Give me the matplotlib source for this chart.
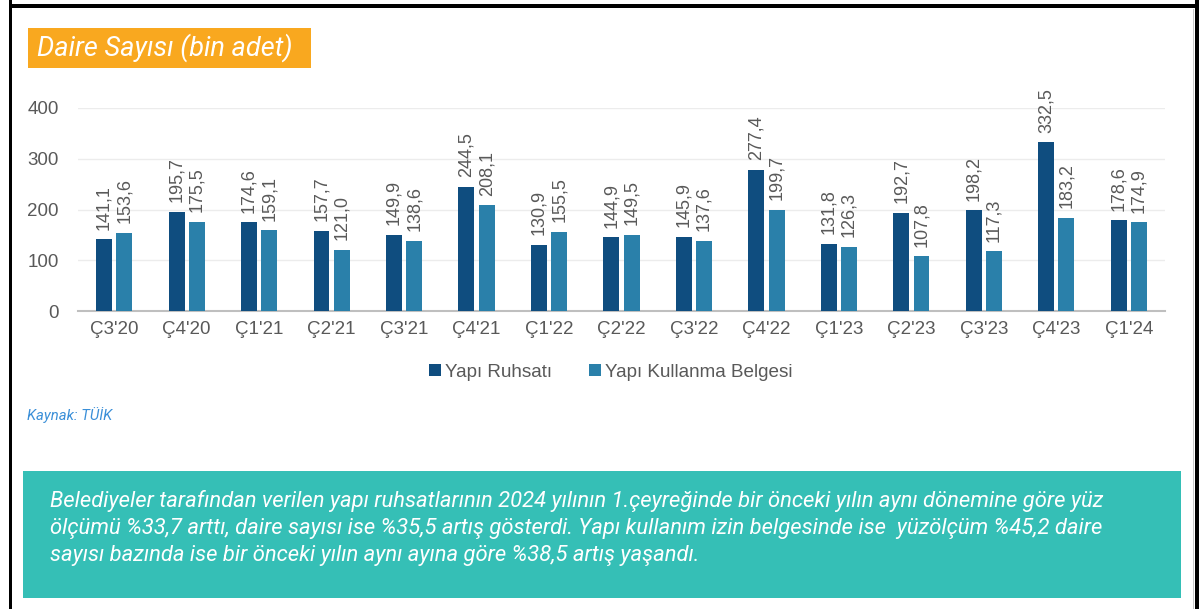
import matplotlib
matplotlib.use("Agg")
import matplotlib.pyplot as plt
from matplotlib.patches import Rectangle
import numpy as np

categories = ["Ç3'20", "Ç4'20", "Ç1'21", "Ç2'21", "Ç3'21", "Ç4'21", "Ç1'22", "Ç2'22",
              "Ç3'22", "Ç4'22", "Ç1'23", "Ç2'23", "Ç3'23", "Ç4'23", "Ç1'24"]
yapi_ruhsati = [141.1, 195.7, 174.6, 157.7, 149.9, 244.5, 130.9, 144.9,
                145.9, 277.4, 131.8, 192.7, 198.2, 332.5, 178.6]
yapi_kullanma = [153.6, 175.5, 159.1, 121.0, 138.6, 208.1, 155.5, 149.5,
                 137.6, 199.7, 126.3, 107.8, 117.3, 183.2, 174.9]
series_names = ["Yapı Ruhsatı", "Yapı Kullanma Belgesi"]
yticks = [0, 100, 200, 300, 400]

title_text = "Daire Sayısı (bin adet)"
source_text = "Kaynak: TÜİK"
note_text = ("Belediyeler tarafından verilen yapı ruhsatlarının 2024 yılının 1.çeyreğinde bir önceki yılın aynı dönemine göre yüz\n"
             "ölçümü %33,7 arttı, daire sayısı ise %35,5 artış gösterdi. Yapı kullanım izin belgesinde ise  yüzölçüm %45,2 daire\n"
             "sayısı bazında ise bir önceki yılın aynı ayına göre %38,5 artış yaşandı.")

W, H = 1200, 609
fig = plt.figure(figsize=(W / 100, H / 100), dpi=100)
fig.patch.set_facecolor("white")

def fx(px):
    return px / W

def fy(py):
    return 1 - py / H

dark = "#0f4d7f"
light = "#2a80aa"
gray_txt = "#595959"

# frame borders
fig.add_artist(Rectangle((fx(9), fy(609)), fx(3), 609 / H, transform=fig.transFigure, color="black", lw=0))
fig.add_artist(Rectangle((fx(9), fy(8)), fx(1190), 4 / H, transform=fig.transFigure, color="black", lw=0))
fig.add_artist(Rectangle((fx(1195), fy(609)), fx(4), 609 / H, transform=fig.transFigure, color="black", lw=0))
fig.add_artist(Rectangle((fx(1193), fy(609)), fx(1), 600 / H, transform=fig.transFigure, color="#c8c8c8", lw=0))

# title box
fig.add_artist(Rectangle((fx(28), fy(68)), fx(283), 40 / H, transform=fig.transFigure,
                         color="#f9a81f", lw=0))
fig.text(fx(37), fy(48), title_text, fontsize=19.5, family="Roboto", style="italic",
         color="white", va="center", ha="left")

# axes
ax = fig.add_axes([fx(78), fy(311), fx(1165 - 78), (311 - 108) / H])
x = np.arange(len(categories))
bw = 0.22
gap = 0.06
off = (bw + gap) / 2
b1 = ax.bar(x - off, yapi_ruhsati, bw, color=dark, label=series_names[0], zorder=3)
b2 = ax.bar(x + off, yapi_kullanma, bw, color=light, label=series_names[1], zorder=3)

for bars, vals in ((b1, yapi_ruhsati), (b2, yapi_kullanma)):
    for rect, v in zip(bars, vals):
        ax.annotate(f"{v:.1f}".replace(".", ","),
                    (rect.get_x() + rect.get_width() / 2, rect.get_height()),
                    xytext=(0, 7), textcoords="offset points", rotation=90,
                    ha="center", va="bottom", fontsize=13, color=gray_txt,
                    family="Liberation Sans", annotation_clip=False)

ax.set_xlim(-0.5, len(categories) - 0.5)
ax.set_ylim(0, 400)
ax.set_yticks(yticks)
ax.set_xticks(x)
ax.set_xticklabels(categories)
for s in ("top", "right", "left"):
    ax.spines[s].set_visible(False)
ax.spines["bottom"].set_color("#bfbfbf")
ax.spines["bottom"].set_linewidth(1.5)
ax.grid(axis="y", color="#ececec", lw=1, zorder=0)
ax.tick_params(axis="both", length=0, labelsize=13.5, labelcolor=gray_txt)
ax.tick_params(axis="y", pad=14)
ax.tick_params(axis="x", pad=7)
for lbl in ax.get_xticklabels() + ax.get_yticklabels():
    lbl.set_family("Liberation Sans")

leg = fig.legend(handles=[b1, b2], labels=series_names, loc="center",
                 bbox_to_anchor=(fx(611), fy(372)), ncol=2, frameon=False,
                 handlelength=0.6, handleheight=0.6,
                 handletextpad=0.25, columnspacing=1.95,
                 prop={"family": "Liberation Sans", "size": 13.6})
for t in leg.get_texts():
    t.set_color(gray_txt)

fig.text(fx(27), fy(415), source_text, fontsize=10.7, family="Roboto", style="italic",
         color="#3a8fd8", va="center", ha="left")

# teal note box
fig.add_artist(Rectangle((fx(23), fy(598)), fx(1181 - 23), (598 - 471) / H,
                         transform=fig.transFigure, color="#35bfb6", lw=0))
fig.text(fx(50), fy(528), note_text, fontsize=15.85, family="Roboto", style="italic",
         color="white", va="center", ha="left", linespacing=1.36)

fig.savefig("out.png", dpi=100, facecolor="white")
